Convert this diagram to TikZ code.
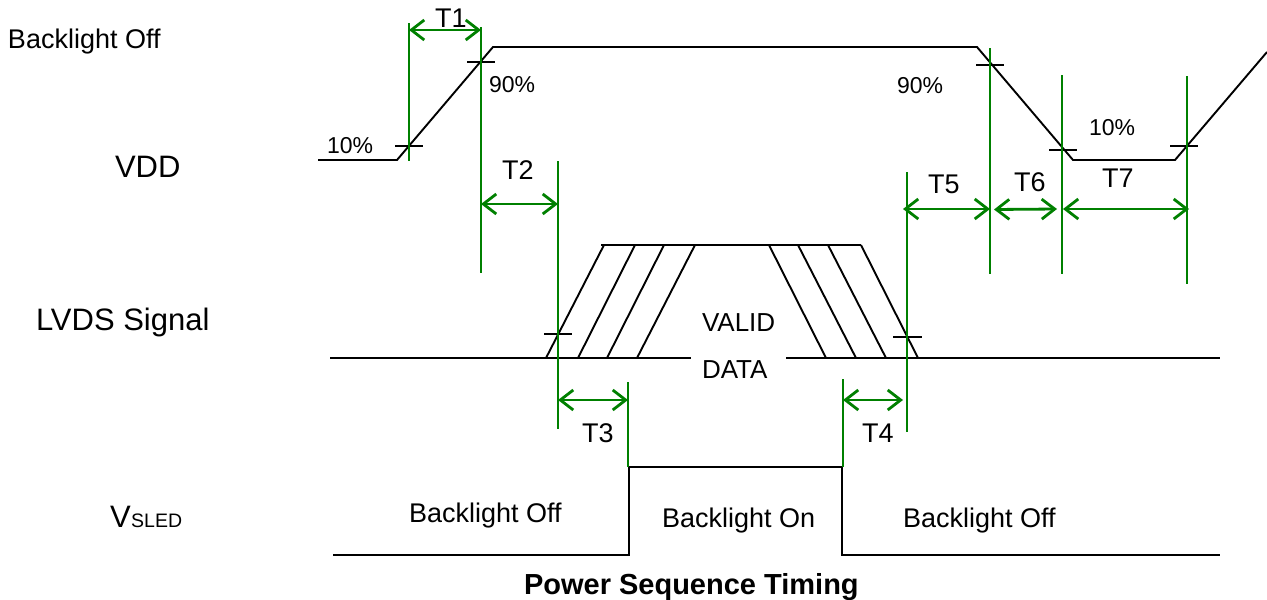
\documentclass[tikz,border=0pt]{standalone}
\usepackage{fontspec}
\setmainfont{Liberation Sans}
\usetikzlibrary{arrows.meta}
\definecolor{dimgreen}{RGB}{0,128,0}
\tikzset{
  wave/.style={draw=black,line width=1.9pt,line join=miter},
  tickmark/.style={draw=black,line width=1.6pt},
  guide/.style={draw=dimgreen,line width=1.2pt},
  dimarrow/.style={draw=dimgreen,line width=2.8pt,{Straight Barb[length=13pt,width=20pt]}-{Straight Barb[length=13pt,width=20pt]}},
  txt/.style={inner sep=0pt,outer sep=0pt,anchor=base west,font=\fontsize{27}{30}\selectfont},
  big/.style={txt,font=\fontsize{31}{34}\selectfont},
  pct/.style={txt,font=\fontsize{23}{26}\selectfont},
  vd/.style={txt,font=\fontsize{26}{29}\selectfont},
  ttl/.style={txt,font=\fontsize{29}{32}\selectfont\bfseries}
}
\begin{document}
\begin{tikzpicture}[x=1pt,y=-1pt]
\useasboundingbox (0,0) rectangle (1267,600);
% left labels
\node[txt] (blofftop) at (8,48) {Backlight Off};
\node[big] (vdd) at (115,177) {VDD};
\node[big] (lvds) at (36,330) {LVDS Signal};
\node[big] (vsled) at (110,527) {V\kern0.5pt{\fontsize{19.5}{20}\selectfont SLED}};
% VDD waveform
\draw[wave] (318,160) -- (397,160) -- (493,47) -- (977,47) -- (1073,160) -- (1175,160) -- (1267,52);
\draw[tickmark] (395,146) -- (423,146);
\draw[tickmark] (467,62) -- (495,62);
\draw[tickmark] (976,65) -- (1004,65);
\draw[tickmark] (1049,150) -- (1077,150);
\draw[tickmark] (1170,146) -- (1198,146);
\node[pct] (p10a) at (327,153) {10\%};
\node[pct] (p90a) at (489,92) {90\%};
\node[pct] (p90b) at (897,93) {90\%};
\node[pct] (p10b) at (1089,135) {10\%};
% LVDS waveform
\draw[wave] (330,358) -- (691,358);
\draw[wave] (786,358) -- (1220,358);
\draw[wave] (601,245) -- (861,245);
\draw[wave] (546,358) -- (604,245);
\draw[wave] (578,358) -- (635,245);
\draw[wave] (607,358) -- (664,245);
\draw[wave] (637,358) -- (695,245);
\draw[wave] (769,245) -- (826,358);
\draw[wave] (798,245) -- (856,358);
\draw[wave] (828,245) -- (886,358);
\draw[wave] (861,245) -- (918,358);
\draw[tickmark] (544,334) -- (572,334);
\draw[tickmark] (893,337) -- (922,337);
\node[vd] (valid) at (702,331) {VALID};
\node[vd] (data) at (702,378) {DATA};
% VSLED waveform
\draw[wave] (333,555) -- (629,555) -- (629,467) -- (842,467) -- (842,555) -- (1220,555);
\node[txt] (bloff1) at (409,522) {Backlight Off};
\node[txt] (blon) at (662,527) {Backlight On};
\node[txt] (bloff2) at (903,527) {Backlight Off};
\node[ttl] (title) at (524,594) {Power Sequence Timing};
% guide lines
\draw[guide] (409,23) -- (409,161);
\draw[guide] (481,27) -- (481,273);
\draw[guide] (558,161) -- (558,429);
\draw[guide] (628,382) -- (628,467);
\draw[guide] (843,379) -- (843,467);
\draw[guide] (907,172) -- (907,432);
\draw[guide] (990,48) -- (990,274);
\draw[guide] (1062,75) -- (1062,274);
\draw[guide] (1187,76) -- (1187,284);
% dimension arrows
\coordinate (t1a) at (409,30); \coordinate (t1b) at (481,30);
\coordinate (t2a) at (481,204); \coordinate (t2b) at (558,204);
\coordinate (t3a) at (558,400); \coordinate (t3b) at (628,400);
\coordinate (t4a) at (843,400); \coordinate (t4b) at (903,400);
\coordinate (t5a) at (903,209); \coordinate (t5b) at (990,209);
\coordinate (t6a) at (994,209.5); \coordinate (t6b) at (1057,209);
\coordinate (t7a) at (1063,209); \coordinate (t7b) at (1189,209);
\draw[dimarrow] (t1a) -- (t1b);
\draw[dimarrow] (t2a) -- (t2b);
\draw[dimarrow] (t3a) -- (t3b);
\draw[dimarrow] (t4a) -- (t4b);
\draw[dimarrow] (t5a) -- (t5b);
\draw[dimarrow] (t6a) -- (t6b);
\draw[dimarrow] (t7a) -- (t7b);
\node[txt] (lt1) at (435,27) {T1};
\node[txt] (lt2) at (502,179) {T2};
\node[txt] (lt3) at (582,442) {T3};
\node[txt] (lt4) at (862,442) {T4};
\node[txt] (lt5) at (928,193) {T5};
\node[txt] (lt6) at (1014,191) {T6};
\node[txt] (lt7) at (1102,187) {T7};
\end{tikzpicture}
\end{document}
